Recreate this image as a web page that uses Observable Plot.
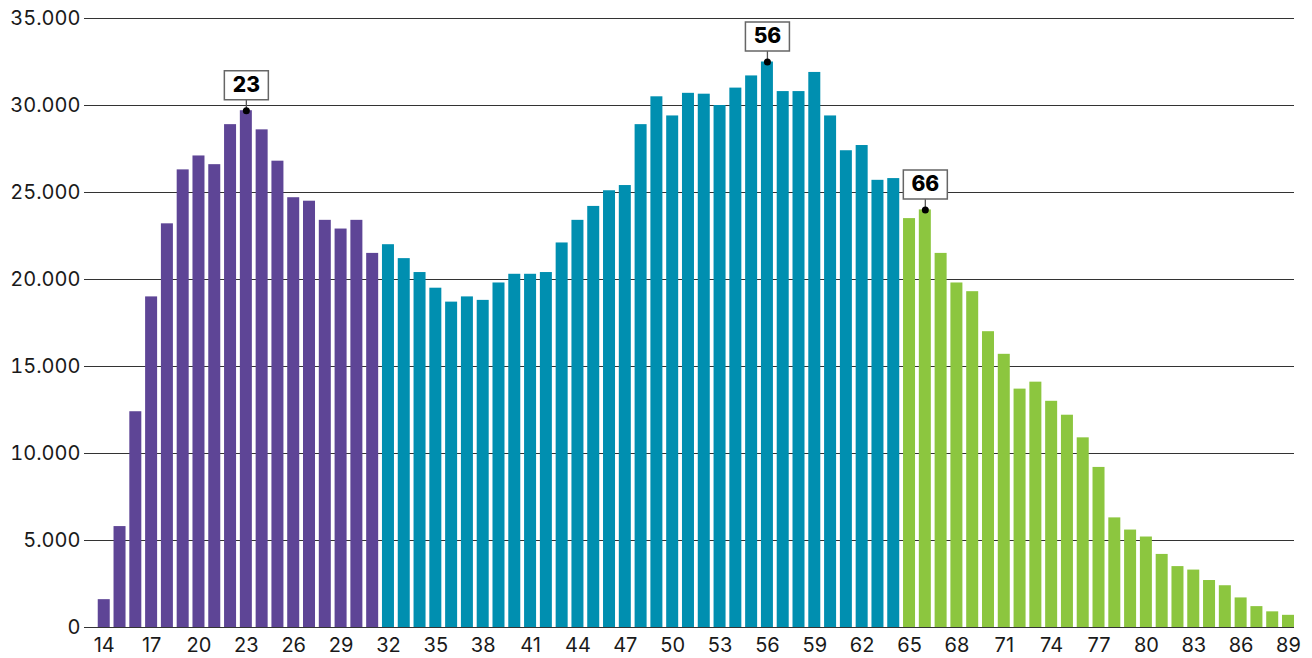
<!DOCTYPE html>
<html><head><meta charset="utf-8">
<script src="https://cdn.jsdelivr.net/npm/d3@7"></script>
<script src="https://cdn.jsdelivr.net/npm/@observablehq/plot@0.6"></script>
<style>html,body{margin:0;padding:0;background:#fff}#chart{width:1312px;height:658px}</style>
</head><body><div id="chart"></div>
<script>
// Categories: age in years
const ages = [14,15,16,17,18,19,20,21,22,23,24,25,26,27,28,29,30,31,32,33,34,35,36,37,38,39,40,41,42,43,44,45,46,47,48,49,50,51,52,53,54,55,56,57,58,59,60,61,62,63,64,65,66,67,68,69,70,71,72,73,74,75,76,77,78,79,80,81,82,83,84,85,86,87,88,89];
// Values per age
const values = [1600,5800,12400,19000,23200,26300,27100,26600,28900,29700,28600,26800,24700,24500,23400,22900,23400,21500,
  22000,21200,20400,19500,18700,19000,18800,19800,20300,20300,20400,22100,23400,24200,25100,25400,28900,30500,29400,30700,30650,30000,31000,31700,32500,30800,30800,31900,29400,27400,27700,25700,25800,
  23500,24000,21500,19800,19300,17000,15700,13700,14100,13000,12200,10900,9200,6300,5600,5200,4200,3500,3300,2700,2400,1700,1200,900,700];
// Age groups (first age of each group) and colours
const groupNames = ["14-31", "32-64", "65+"];
const groupStarts = [14, 32, 65];
const groupColors = ["#5e4596", "#008fb0", "#8cc63f"];
// Highlighted peaks
const peaks = [23, 56, 66];
// Tick labels
const xTicks = [14,17,20,23,26,29,32,35,38,41,44,47,50,53,56,59,62,65,68,71,74,77,80,83,86,89];
const yTicks = [0,5000,10000,15000,20000,25000,30000,35000];

const groupOf = a => groupNames[d3.bisectRight(groupStarts, a) - 1];
const data = ages.map((a, i) => ({age: a, value: values[i], group: groupOf(a)}));
const annot = data.filter(d => peaks.includes(d.age));

const nl = d3.formatLocale({decimal: ",", thousands: ".", grouping: [3], currency: ["€", ""]});
const fmt = nl.format(",d");

const boxSymbol = {draw(ctx) { ctx.moveTo(-22, -40); ctx.lineTo(22, -40); ctx.lineTo(22, -11); ctx.lineTo(-22, -11); ctx.closePath(); }};
const stemSymbol = {draw(ctx) { ctx.moveTo(0, 0); ctx.lineTo(0, -11); }};

const chart = Plot.plot({
  width: 1312, height: 658,
  marginLeft: 84, marginRight: 18, marginTop: 18, marginBottom: 31,
  style: {fontFamily: "Inter, 'Noto Sans', sans-serif", fontSize: "20px", color: "#1a1a1a", background: "#fff", overflow: "visible"},
  x: {type: "band", domain: ages, paddingInner: 0.24, paddingOuter: 0.435, align: 1},
  y: {domain: [0, 35000]},
  color: {domain: groupNames, range: groupColors},
  marks: [
    Plot.ruleY(yTicks, {stroke: "#333", strokeWidth: 1}),
    Plot.barY(data, {x: "age", y: "value", fill: "group"}),
    Plot.axisX(xTicks, {tickSize: 0, tickPadding: 10, label: null, fontSize: 20, tickFormat: d => String(d)}),
    Plot.axisY(yTicks, {tickSize: 0, tickPadding: 4, label: null, fontSize: 20, tickFormat: fmt}),
    Plot.dot(annot, {x: "age", y: "value", symbol: stemSymbol, fill: "none", stroke: "#555", strokeWidth: 1.3}),
    Plot.dot(annot, {x: "age", y: "value", symbol: boxSymbol, fill: "white", stroke: "#666", strokeWidth: 1.5}),
    Plot.text(annot, {x: "age", y: "value", text: d => String(d.age), dy: -25.5, fontWeight: 800, fontSize: 21, fill: "#000"}),
    Plot.dot(annot, {x: "age", y: "value", r: 3.5, fill: "#000", stroke: "none"})
  ]
});
document.getElementById("chart").append(chart);
</script>
</body></html>
